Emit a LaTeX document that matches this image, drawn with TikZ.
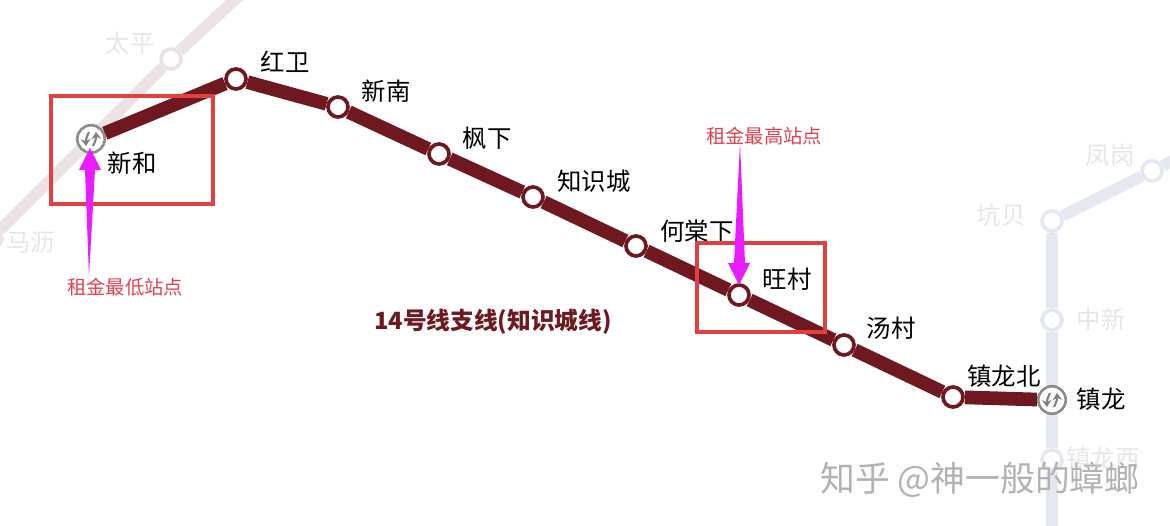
\documentclass[tikz,border=0pt]{standalone}
\usepackage{fontspec}
\setmainfont{Noto Sans CJK SC}
\usetikzlibrary{arrows.meta,calc}
\definecolor{linered}{HTML}{701820}
\definecolor{boxred}{HTML}{E04040}
\definecolor{notered}{HTML}{E0404F}
\definecolor{arrowpink}{HTML}{E81CFF}
\definecolor{paleone}{HTML}{EBE2E4}
\definecolor{paletwo}{HTML}{E5E8F1}
\definecolor{paletext}{HTML}{E6E6E6}
\tikzset{
    station/.style={circle, draw=linered, fill=white, line width=2.1pt, minimum size=0.4cm, inner sep=0pt},
    palestation/.style={circle, draw=#1, fill=white, line width=2.1pt, minimum size=0.4cm, inner sep=0pt},
    transfer/.style={circle, draw=gray!90, fill=white, line width=1.5pt, minimum size=0.55cm, inner sep=0pt,
        path picture={
            \draw[gray, line width=1.2pt, -{Stealth[length=4pt,width=5.5pt]}]
                ([shift={(-2,-7)}]path picture bounding box.center) to[bend right=15] ([shift={(-5,7)}]path picture bounding box.center);
            \draw[gray, line width=1.2pt, -{Stealth[length=4pt,width=5.5pt]}]
                ([shift={(2,7)}]path picture bounding box.center) to[bend right=15] ([shift={(5,-7)}]path picture bounding box.center);
        }},
    name label/.style={font=\fontsize{13.9}{14}\selectfont, text=black, inner sep=0pt},
    pale label/.style={name label, text=paletext},
    note label/.style={font=\fontsize{11}{11}\selectfont, text=notered, inner sep=0pt},
    mainline/.style={draw=linered, line width=7.8pt},
    paleline/.style={draw=#1, line width=6.6pt},
    rentbox/.style={draw=boxred, line width=1.8pt},
    rentarrow/.style={fill=arrowpink}
}

\begin{document}
\begin{tikzpicture}[x=0.02cm, y=-0.02cm]
    \clip (0,0) rectangle (1170,526);

    % blasse Nachbarlinien
    \coordinate (topend) at (243,-8);
    \coordinate (rightend) at (1190,152);
    \coordinate (bottomend) at (1052,535);
    \node[palestation=paleone] (taiping) at (171,59) {};
    \node[palestation=paleone] (mali) at (-8,238) {};
    \node[palestation=paletwo] (fenggang) at (1152,171) {};
    \node[palestation=paletwo] (kengbei) at (1052,221) {};
    \node[palestation=paletwo] (zhongxin) at (1052,320) {};
    \node[palestation=paletwo] (zhenlongxi) at (1052,460) {};
    \draw[paleline=paleone] (topend) -- (taiping) -- (mali);
    \draw[paleline=paletwo] (rightend) -- (fenggang) -- (kengbei) -- (zhongxin) -- (zhenlongxi) -- (bottomend);

    \node[pale label] (taipinglabel) at (130,43) {太平};
    \node[pale label] (malilabel) at (31,243) {马沥};
    \node[pale label] (fenggangllabel) at (1110,155) {凤岗};
    \node[pale label] (kengbeilabel) at (1001,215) {坑贝};
    \node[pale label] (zhongxinlabel) at (1101,319) {中新};
    \node[pale label] (zhenlongxilabel) at (1103,458) {镇龙西};

    % Stationen
    \node[transfer] (xinhe) at (91,139) {};
    \node[station] (hongwei) at (236,79) {};
    \node[station] (xinnan) at (338,107) {};
    \node[station] (fengxia) at (439,154) {};
    \node[station] (zhishi) at (533,197) {};
    \node[station] (hetang) at (636,246) {};
    \node[station] (wangcun) at (739,295) {};
    \node[station] (tangcun) at (844,345) {};
    \node[station] (zhenlongbei) at (953,397) {};
    \node[transfer] (zhenlong) at (1052,400) {};
    \draw[mainline] (xinhe) -- (hongwei) -- (xinnan) -- (fengxia) -- (zhishi) -- (hetang) -- (wangcun) -- (tangcun) -- (zhenlongbei) -- (zhenlong);

    % Namen
    \node[name label] (xinhelabel) at (132,163) {新和};
    \node[name label] (hongweilabel) at (285,62) {红卫};
    \node[name label] (xinnanlabel) at (386,91) {新南};
    \node[name label] (fengxialabel) at (487,138) {枫下};
    \node[name label] (zhishilabel) at (594,181) {知识城};
    \node[name label] (hetanglabel) at (697,231) {何棠下};
    \node[name label] (wangcunlabel) at (787,279) {旺村};
    \node[name label] (tangcunlabel) at (891,328) {汤村};
    \node[name label] (zhenlongbeilabel) at (1004,376) {镇龙北};
    \node[name label] (zhenlonglabel) at (1101,399) {镇龙};

    \node[font=\fontsize{13.5}{14}\selectfont\bfseries, text=linered, inner sep=0pt] (title) at (493,322) {14号线支线(知识城线)};

    % Kästen
    \draw[rentbox] (51,96) rectangle (213,204);
    \draw[rentbox] (697,243) rectangle (825,332);

    % Pfeile
    \node[note label] (lowlabel) at (125,287) {租金最低站点};
    \node[note label] (highlabel) at (764,136) {租金最高站点};
    \coordinate (lowtail) at (89,276);
    \coordinate (hightail) at (740,143);
    \fill[rentarrow] (lowtail) -- (85,170) -- (79,170) -- ($(xinhe)+(-1,9)$) -- (101,170) -- (95,170) -- cycle;
    \fill[rentarrow] (hightail) -- (745,263) -- (750,263) -- ($(wangcun)+(0,-10)$) -- (728,263) -- (734,263) -- cycle;

    % Wasserzeichen
    \node[font=\fontsize{19.8}{20}\selectfont, text=gray!60, inner sep=0pt] (watermark) at (980,480) {知乎 @神一般的蟑螂};
\end{tikzpicture}
\end{document}
